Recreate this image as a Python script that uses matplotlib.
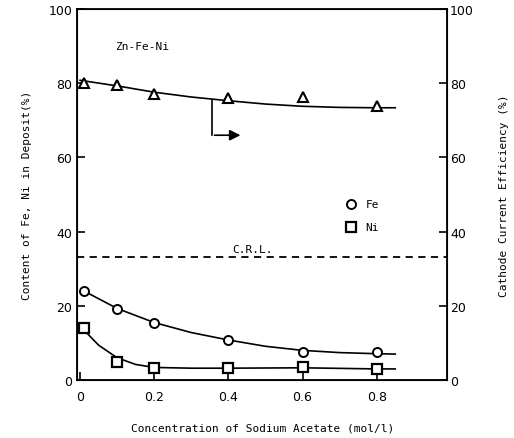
import numpy as np
import matplotlib.pyplot as plt

# measured points
conc = [0.01, 0.1, 0.2, 0.4, 0.6, 0.8]
fe = [24.1, 19.1, 15.4, 10.8, 7.6, 7.6]
ni = [13.9, 4.8, 3.2, 3.2, 3.6, 2.9]
cce = [80.2, 79.6, 77.2, 75.9, 76.4, 74.0]

# hand-drawn trend curves
fe_curve_x = [0.02, 0.1, 0.2, 0.3, 0.4, 0.5, 0.6, 0.7, 0.8, 0.85]
fe_curve_y = [23.5, 19.3, 15.5, 12.8, 10.8, 9.1, 8.0, 7.4, 7.1, 7.0]
ni_curve_x = [0.02, 0.05, 0.1, 0.15, 0.2, 0.3, 0.4, 0.6, 0.8, 0.85]
ni_curve_y = [12.5, 9.4, 6.0, 4.2, 3.4, 3.2, 3.2, 3.3, 3.0, 3.0]
cce_curve_x = [0.0, 0.1, 0.2, 0.3, 0.4, 0.5, 0.6, 0.7, 0.8, 0.85]
cce_curve_y = [80.8, 79.3, 77.6, 76.3, 75.3, 74.4, 73.8, 73.5, 73.4, 73.4]

crl = 33.2
xticks = [0, 0.2, 0.4, 0.6, 0.8]
yticks = [0, 20, 40, 60, 80, 100]

mono = 'DejaVu Sans Mono'

fig = plt.figure(figsize=(5.14, 4.39), dpi=100)
ax = fig.add_axes([0.150, 0.132, 0.720, 0.845])

ax.plot(fe_curve_x, fe_curve_y, color='black', lw=1.2)
ax.plot(ni_curve_x, ni_curve_y, color='black', lw=1.2)
ax.plot(cce_curve_x, cce_curve_y, color='black', lw=1.2)

ax.plot(conc, fe, 'o', ms=6.5, mfc='white', mec='black', mew=1.4, ls='none')
ax.plot(conc, ni, 's', ms=6.5, mfc='white', mec='black', mew=1.6, ls='none')
ax.plot(conc, cce, '^', ms=7, mfc='white', mec='black', mew=1.5, ls='none')

ax.axhline(crl, color='black', lw=1.3, ls=(0, (4, 3)))
ax.text(0.41, crl + 1.2, 'C.R.L.', family=mono, fontsize=8)

# arrow pointing to the right axis
ax.plot([0.357, 0.357], [75.4, 66.0], color='black', lw=1.2)
ax.annotate('', xy=(0.44, 66.0), xytext=(0.355, 66.0),
            arrowprops=dict(arrowstyle='-|>', color='black', lw=1.2,
                            mutation_scale=16))

ax.text(0.095, 90, 'Zn-Fe-Ni', family=mono, fontsize=8, va='center')

# legend drawn as marks and text
ax.plot([0.73], [47.4], 'o', ms=6.5, mfc='white', mec='black', mew=1.4)
ax.plot([0.73], [41.2], 's', ms=6.5, mfc='white', mec='black', mew=1.6)
ax.text(0.77, 47.4, 'Fe', family=mono, fontsize=8, va='center')
ax.text(0.77, 41.2, 'Ni', family=mono, fontsize=8, va='center')

ax.set_xlim(-0.008, 0.99)
ax.set_ylim(0, 100)
ax.set_xticks(xticks)
ax.set_xticklabels(['0', '0.2', '0.4', '0.6', '0.8'])
ax.set_yticks(yticks)
ax.tick_params(direction='in', length=6, width=1.2, labelsize=9)
ax.tick_params(axis='x', pad=7)
for s in ax.spines.values():
    s.set_linewidth(1.3)

ax2 = ax.twinx()
ax2.set_ylim(0, 100)
ax2.set_yticks(yticks)
ax2.tick_params(direction='in', length=6, width=1.2, labelsize=9, pad=2)

ax.set_xlabel('Concentration of Sodium Acetate (mol/l)', family=mono,
              fontsize=8, labelpad=14)
ax.set_ylabel('Content of Fe, Ni in Deposit(%)', family=mono, fontsize=8,
              labelpad=12)
ax2.set_ylabel('Cathode Current Efficiency (%)', family=mono, fontsize=8,
               labelpad=18)

fig.savefig('out.png', dpi=100)
